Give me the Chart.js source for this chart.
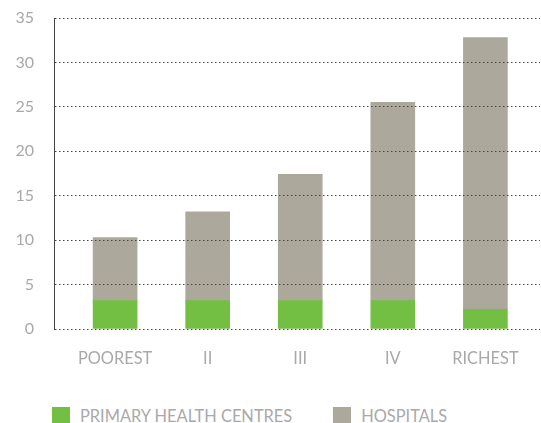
<!DOCTYPE html>
<html>
<head>
<meta charset="utf-8">
<script src="https://cdn.jsdelivr.net/npm/chart.js@4/dist/chart.umd.min.js"></script>
<style>
  html, body { margin: 0; padding: 0; background: #fff; }
  body { width: 541px; height: 423px; overflow: hidden; font-family: Lato, "Open Sans", sans-serif; }
  #wrap { position: absolute; left: 0; top: 0; width: 541px; height: 381px; }
  #legend { position: absolute; left: 52px; top: 406px; display: flex; align-items: center; color: #a9a9a9; font-size: 16.4px; }
  .item { display: flex; align-items: center; margin-right: 41px; }
  .box { width: 18px; height: 17px; margin-right: 10px; }
</style>
</head>
<body>
<div id="wrap"><canvas id="chart"></canvas></div>
<div id="legend"></div>
<script>
// ---------------- DATA ----------------
const categories = ["POOREST", "II", "III", "IV", "RICHEST"];
const primaryHealth = [3.2, 3.2, 3.2, 3.2, 2.2];
const hospitals = [7.1, 10.0, 14.2, 22.3, 30.6];
const yTicks = [0, 5, 10, 15, 20, 25, 30, 35];

const GREEN = '#73bf43';
const GREY = '#aca99c';

// ---------------- CHART ----------------
const dotted = { color: '#444', dash: [1.5, 2.5] };

new Chart(document.getElementById('chart'), {
  type: 'bar',
  data: {
    datasets: [
      {
        label: 'PRIMARY HEALTH CENTRES',
        data: primaryHealth.map((v, i) => ({ x: i, y: v })),
        backgroundColor: GREEN,
        barThickness: 44
      },
      {
        label: 'HOSPITALS',
        data: hospitals.map((v, i) => ({ x: i, y: v })),
        backgroundColor: GREY,
        barThickness: 44
      }
    ]
  },
  options: {
    responsive: true,
    maintainAspectRatio: false,
    animation: false,
    layout: { padding: { top: 18, right: 1, left: 0, bottom: 0 } },
    plugins: { legend: { display: false }, tooltip: { enabled: false } },
    scales: {
      x: {
        type: 'linear',
        stacked: true,
        offset: false,
        min: -0.66,
        max: 4.59,
        grid: { display: false, drawTicks: false },
        border: { display: false },
        afterBuildTicks: s => { s.ticks = categories.map((c, i) => ({ value: i })); },
        afterFit: s => { s.height = 52; s.paddingLeft = 0; s.paddingRight = 0; },
        ticks: {
          callback: v => categories[v],
          color: '#a9a9a9',
          font: { family: 'Lato', size: 16.4 },
          padding: 20,
          maxRotation: 0
        }
      },
      y: {
        stacked: true,
        min: 0,
        max: 35,
        afterBuildTicks: s => { s.ticks = yTicks.map(v => ({ value: v })); },
        afterFit: s => { s.width = 54; s.paddingTop = 0; s.paddingBottom = 0; },
        grid: { color: dotted.color, lineWidth: 1, drawTicks: false, z: 1 },
        border: { display: true, color: dotted.color, width: 1, dash: dotted.dash, z: 1 },
        ticks: {
          color: '#a9a9a9',
          font: { family: 'Lato', size: 16 },
          padding: 20
        }
      }
    }
  }
});

// ---------------- LEGEND ----------------
const legend = document.getElementById('legend');
[['PRIMARY HEALTH CENTRES', GREEN], ['HOSPITALS', GREY]].forEach(([t, c]) => {
  const it = document.createElement('div');
  it.className = 'item';
  it.innerHTML = `<span class="box" style="background:${c}"></span><span>${t}</span>`;
  legend.appendChild(it);
});
</script>
</body>
</html>
